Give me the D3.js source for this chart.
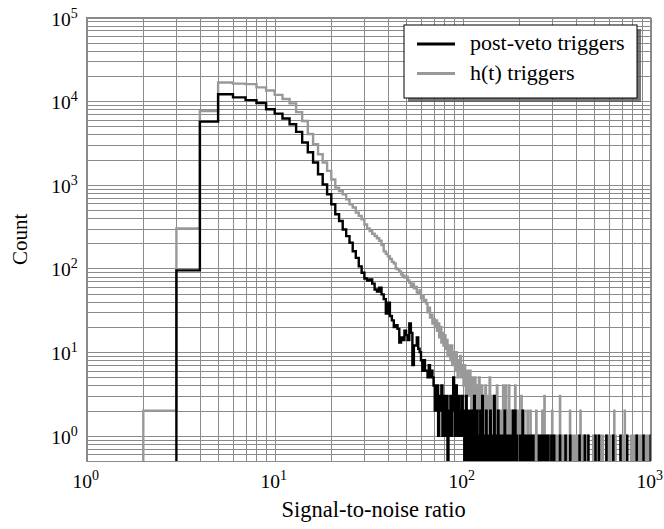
<!DOCTYPE html>
<html>
<head>
<meta charset="utf-8">
<script src="https://cdn.jsdelivr.net/npm/d3@7"></script>
<style>
  body { margin: 0; background: #fff; }
  svg { display: block; }
  text { font-family: "Liberation Serif", "DejaVu Serif", serif; fill: #000; }
</style>
</head>
<body>
<svg id="chart" width="664" height="529"></svg>
<script>
// histogram bins are 1 SNR wide; head arrays start at bin [2,3)
const firstBin = 2;
const lastEdge = 1000;

// post-veto triggers, bins 2..129
const vetoHead = [
  0, 95, 5700, 12100, 11100, 10300, 9500, 8000, 7100, 6200, 5300, 4300,
  3200, 2450, 1850, 1340, 1010, 770, 585, 445, 370, 293, 244, 203, 161, 134, 106, 89,
  76, 72, 74, 66, 56, 53, 59, 49, 43, 29, 39, 27, 24, 20, 21, 19, 13, 15, 14, 18,
  16, 14, 22, 17, 7, 12, 12, 15, 11, 10, 8, 6, 8, 6,
  6, 5, 7, 5, 6, 5, 4, 2, 3, 4, 1, 3, 2, 4, 1, 3, 2, 1, 3, 0, 2, 1, 3, 1, 2, 5,
  2, 1, 4, 1, 2, 3, 1, 2, 1, 3,
  1, 2, 0, 1, 3, 1, 0, 2, 1, 1, 0, 2, 1, 0, 1, 3, 1, 0, 1, 2, 0, 1, 1, 0, 2, 1,
  0, 3, 1, 0
];
// h(t) triggers, bins 2..129
const htHead = [
  2, 300, 7600, 16700, 16200, 16000, 14600, 13400, 11900, 10600, 9400, 7400,
  5800, 4050, 3050, 2320, 1850, 1470, 1160, 925, 845, 770, 670, 585, 535, 465, 425, 386,
  336, 300, 280, 260, 245, 230, 215, 190, 160, 150, 140, 130, 120, 115, 100, 98,
  92, 85, 82, 78, 80, 72, 68, 62, 66, 58, 60, 52, 50, 55, 44, 48, 40, 42,
  38, 30, 34, 26, 28, 22, 25, 20, 24, 18, 22, 15, 20, 13, 17, 12, 16, 11, 14, 9,
  12, 10, 8, 12, 7, 10, 9, 6, 10, 7, 5, 8, 6, 9, 5, 7,
  6, 4, 7, 5, 3, 6, 4, 5, 3, 6, 4, 2, 5, 3, 4, 2, 5, 3, 2, 4, 3, 2, 5, 1, 3, 2,
  4, 1, 3, 2
];

// sparse tails (lower bin edge, count) for SNR >= 130
const vetoTailSnr = [
  131, 133, 134, 136, 138, 140, 141, 143, 145, 147, 149, 150, 152, 154, 156, 158,
  160, 163, 166, 167, 170, 175, 178, 181, 185, 188, 190, 193, 201, 204, 208, 212,
  216, 220, 225, 231, 237, 254, 260, 268, 276, 285, 296, 306, 329, 352, 373, 418,
  446, 466, 508, 530, 581, 632, 690, 750, 842, 915, 999
];
const vetoTailCount = [
  1, 2, 1, 1, 1, 2, 1, 1, 1, 3, 1, 1, 1, 2, 1, 1,
  1, 1, 1, 2, 1, 1, 1, 1, 2, 1, 2, 1, 1, 1, 2, 1,
  1, 1, 1, 1, 1, 1, 1, 1, 1, 1, 1, 1, 1, 1, 1, 1,
  1, 1, 1, 1, 1, 1, 1, 1, 1, 1, 1
];
const htTailSnr = [
  130, 131, 132, 133, 134, 135, 136, 137, 138, 139, 140, 141, 142, 143, 144, 145,
  146, 147, 148, 149, 150, 151, 152, 153, 154, 155, 156, 157, 158, 160, 161, 162,
  164, 165, 166, 168, 169, 170, 172, 173, 175, 176, 177, 179, 180, 182, 184, 186,
  188, 190, 191, 193, 195, 197, 199, 201, 203, 205, 207, 209, 212, 214, 216, 219,
  221, 224, 226, 229, 231, 234, 237, 240, 243, 246, 249, 252, 255, 258, 262, 265,
  268, 272, 275, 279, 283, 287, 291, 295, 299, 303, 307, 311, 316, 320, 325, 329,
  334, 339, 344, 349, 355, 361, 366, 372, 378, 384, 390, 396, 403, 409, 416, 423,
  430, 437, 444, 451, 460, 494, 503, 512, 521, 530, 548, 556, 580, 590, 600, 610,
  630, 640, 650, 695, 705, 716, 728, 738, 785, 795, 806, 818, 830, 860, 870, 882,
  910, 920, 940, 960, 972, 985, 999
];
const htTailCount = [
  3, 1, 4, 2, 1, 3, 2, 1, 2, 5, 1, 2, 3, 1, 2, 1,
  2, 1, 3, 1, 2, 1, 4, 1, 2, 1, 1, 2, 1, 1, 2, 1,
  4, 1, 1, 2, 4, 1, 1, 2, 1, 4, 1, 1, 2, 1, 1, 2,
  1, 4, 1, 2, 1, 1, 2, 1, 1, 3, 1, 1, 2, 1, 1, 1,
  2, 1, 1, 2, 1, 1, 1, 1, 1, 2, 1, 1, 1, 1, 1, 2,
  1, 3, 1, 1, 1, 1, 1, 1, 2, 1, 1, 1, 1, 1, 1, 3,
  1, 1, 1, 1, 1, 1, 1, 2, 1, 1, 1, 1, 1, 1, 1, 2,
  1, 1, 1, 1, 1, 1, 1, 1, 1, 1, 1, 1, 1, 1, 1, 1,
  1, 2, 1, 1, 1, 1, 2, 1, 1, 1, 1, 1, 1, 1, 1, 1,
  1, 1, 1, 1, 1, 1, 1
];

const seriesNames = ["post-veto triggers", "h(t) triggers"];
const seriesColors = ["#000000", "#999999"];
const xTicks = [1, 10, 100, 1000];
const yTicks = [1, 10, 100, 1000, 10000, 100000];

// layout
const width = 664, height = 529;
const plot = { left: 86.7, right: 650.7, top: 17.5, bottom: 461 };

const svg = d3.select("#chart");

const xScale = d3.scaleLog().domain([1, 1000]).range([plot.left, plot.right]);
const yScale = d3.scaleLog().domain([0.5, 1e5]).range([plot.bottom, plot.top]);

// build full bin table from head + sparse tail
function buildBins(head, tailSnr, tailCount) {
  const counts = new Map();
  head.forEach((c, i) => counts.set(firstBin + i, c));
  tailSnr.forEach((s, i) => counts.set(s, tailCount[i]));
  const bins = [];
  for (let lo = firstBin; lo < lastEdge; lo++) {
    bins.push({ x: lo, c: counts.get(lo) || 0 });
  }
  return bins;
}

const vetoBins = buildBins(vetoHead, vetoTailSnr, vetoTailCount);
const htBins = buildBins(htHead, htTailSnr, htTailCount);

// grid
const gridColor = "#8a8a8a";
const xGrid = [];
for (let d = 1; d < 1000; d *= 10) for (let k = 1; k < 10; k++) xGrid.push(k * d);
xGrid.push(1000);
const yGrid = [];
for (let d = 0.1; d < 1e5; d *= 10) for (let k = 1; k < 10; k++) {
  const v = +(k * d).toPrecision(3);
  if (v >= 0.5) yGrid.push(v);
}
yGrid.push(1e5);

svg.append("g")
  .attr("transform", `translate(0,${plot.bottom})`)
  .call(d3.axisBottom(xScale).tickValues(xGrid).tickSize(-(plot.bottom - plot.top)).tickFormat(""))
  .call(g => g.select(".domain").remove())
  .call(g => g.selectAll("line").attr("stroke", gridColor).attr("shape-rendering", "crispEdges"));

svg.append("g")
  .attr("transform", `translate(${plot.left},0)`)
  .call(d3.axisLeft(yScale).tickValues(yGrid).tickSize(-(plot.right - plot.left)).tickFormat(""))
  .call(g => g.select(".domain").remove())
  .call(g => g.selectAll("line").attr("stroke", gridColor).attr("shape-rendering", "crispEdges"));

svg.append("rect")
  .attr("x", plot.left).attr("y", plot.top)
  .attr("width", plot.right - plot.left).attr("height", plot.bottom - plot.top)
  .attr("fill", "none").attr("stroke", gridColor).attr("shape-rendering", "crispEdges");

// histograms
svg.append("clipPath").attr("id", "clip")
  .append("rect")
  .attr("x", plot.left).attr("y", plot.top)
  .attr("width", plot.right - plot.left).attr("height", plot.bottom - plot.top);

const yOf = c => c > 0 ? yScale(c) : plot.bottom + 20;
const stepLine = d3.line()
  .x(d => xScale(d.x))
  .y(d => yOf(d.c))
  .curve(d3.curveStepAfter);

function stepPoints(bins) {
  return [{ x: firstBin, c: 0 }, ...bins, { x: lastEdge, c: 0 }];
}

const histG = svg.append("g").attr("clip-path", "url(#clip)");
[[htBins, 1], [vetoBins, 0]].forEach(([bins, i]) => {
  histG.append("path")
    .attr("d", stepLine(stepPoints(bins)))
    .attr("fill", "none")
    .attr("stroke", seriesColors[i])
    .attr("stroke-width", 2.4)
    .attr("stroke-linejoin", "miter");
});

// tick labels as 10^n
function powerLabel(sel, v) {
  const e = Math.round(Math.log10(v));
  sel.append("tspan").text("10");
  sel.append("tspan").attr("dy", -8).attr("font-size", 14).text(e);
}

xTicks.forEach(v => {
  const t = svg.append("text")
    .attr("x", xScale(v) - 1)
    .attr("y", plot.bottom + 27)
    .attr("text-anchor", "middle")
    .attr("font-size", 19.5);
  powerLabel(t, v);
});

yTicks.forEach(v => {
  const t = svg.append("text")
    .attr("x", plot.left - 9)
    .attr("y", yScale(v) + 8)
    .attr("text-anchor", "end")
    .attr("font-size", 19.5);
  powerLabel(t, v);
});

// axis titles
svg.append("text")
  .attr("x", (plot.left + plot.right) / 2 + 5)
  .attr("y", 517)
  .attr("text-anchor", "middle")
  .attr("font-size", 22.5)
  .text("Signal-to-noise ratio");

svg.append("text")
  .attr("transform", `translate(27,${(plot.top + plot.bottom) / 2}) rotate(-90)`)
  .attr("text-anchor", "middle")
  .attr("font-size", 21)
  .text("Count");

// legend
const legend = { x: 404, y: 25, w: 233, h: 73 };
svg.append("rect")
  .attr("x", legend.x + 4).attr("y", legend.y + 4)
  .attr("width", legend.w).attr("height", legend.h)
  .attr("fill", "#555").attr("opacity", 0.8);
svg.append("rect")
  .attr("x", legend.x).attr("y", legend.y)
  .attr("width", legend.w).attr("height", legend.h)
  .attr("fill", "#fff").attr("stroke", "#000").attr("stroke-width", 1);

seriesNames.forEach((name, i) => {
  const yy = legend.y + 19 + i * 29.5;
  svg.append("line")
    .attr("x1", legend.x + 13).attr("x2", legend.x + 51)
    .attr("y1", yy).attr("y2", yy)
    .attr("stroke", seriesColors[i]).attr("stroke-width", 3);
  svg.append("text")
    .attr("x", legend.x + 66)
    .attr("y", yy + 6)
    .attr("font-size", 22)
    .text(name);
});
</script>
</body>
</html>
